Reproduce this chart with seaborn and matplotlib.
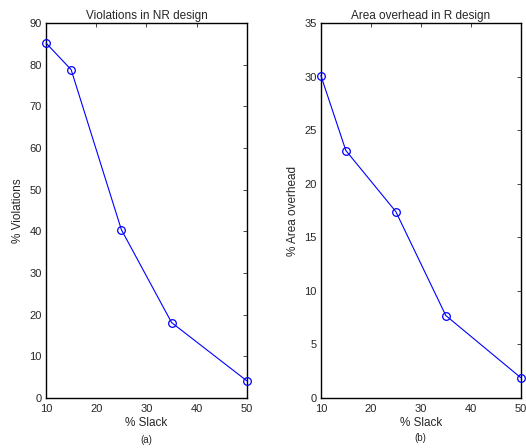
import pandas as pd
import matplotlib
matplotlib.use("Agg")
import matplotlib.pyplot as plt
import seaborn as sns

sns.set_style("white")
plt.rcParams["font.family"] = ["Liberation Sans", "DejaVu Sans"]

# Data
slack = [10, 15, 25, 35, 50]
violations_nr = [85.2, 78.8, 40.4, 18.1, 4.1]
area_overhead_r = [30.1, 23.1, 17.4, 7.7, 1.9]

fig = plt.figure(figsize=(5.26, 4.48), dpi=100)
ax1 = fig.add_axes([0.0875, 0.1116, 0.382, 0.837])
ax2 = fig.add_axes([0.610, 0.1116, 0.380, 0.837])


def draw_panel(ax, y, title, ylabel, ylim, yticks):
    df = pd.DataFrame({"slack": slack, "value": y})
    sns.lineplot(data=df, x="slack", y="value", ax=ax, color="blue",
                 linewidth=0.8, marker="o", markersize=5.5,
                 markerfacecolor="none", markeredgecolor="blue",
                 markeredgewidth=0.9, clip_on=False, zorder=3)
    ax.set_xlim(10, 50)
    ax.set_ylim(*ylim)
    ax.set_xticks([10, 20, 30, 40, 50])
    ax.set_yticks(yticks)
    ax.tick_params(direction="in", length=3, width=0.6, labelsize=8,
                   top=True, right=True)
    ax.tick_params(axis="x", pad=4.5)
    ax.tick_params(axis="y", pad=3)
    for s in ax.spines.values():
        s.set_linewidth(1.0)
        s.set_color("black")
    ax.set_title(title, fontsize=8.5, pad=3)
    ax.set_xlabel("% Slack", fontsize=8.5, labelpad=2)
    ax.set_ylabel(ylabel, fontsize=8.5, labelpad=4)


draw_panel(ax1, violations_nr, "Violations in NR design", "% Violations",
           (0, 90), range(0, 91, 10))
draw_panel(ax2, area_overhead_r, "Area overhead in R design", "% Area overhead",
           (0, 35), range(0, 36, 5))

fig.text(0.278, 0.018, "(a)", ha="center", va="center", fontsize=7)
fig.text(0.800, 0.022, "(b)", ha="center", va="center", fontsize=7)

fig.savefig("out.png", dpi=100)
